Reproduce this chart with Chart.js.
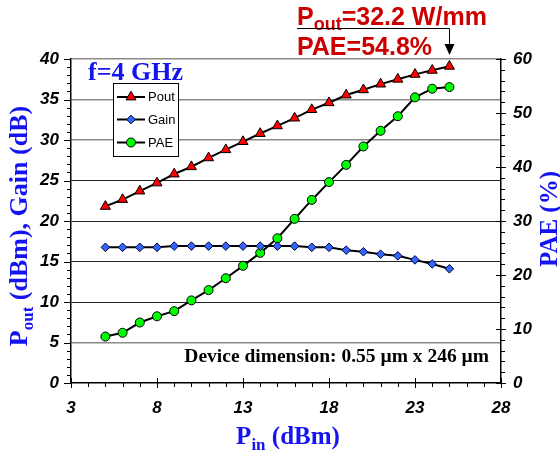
<!DOCTYPE html>
<html><head><meta charset="utf-8">
<script src="https://cdn.jsdelivr.net/npm/chart.js@4.4.0/dist/chart.umd.min.js"></script>
<style>html,body{margin:0;padding:0;background:#fff}#wrap{width:560px;height:456px;position:relative}</style>
</head><body><div id="wrap"><canvas id="c" width="560" height="456"></canvas></div>
<script>
// ---- data ----
const pin  = [5,6,7,8,9,10,11,12,13,14,15,16,17,18,19,20,21,22,23,24,25];
const pout = [21.8,22.65,23.7,24.7,25.8,26.7,27.8,28.8,29.8,30.8,31.75,32.7,33.75,34.6,35.55,36.2,36.9,37.5,38.1,38.6,39.1];
const gain = [16.75,16.75,16.75,16.75,16.9,16.9,16.9,16.9,16.9,16.9,16.9,16.9,16.75,16.75,16.4,16.2,15.9,15.7,15.2,14.7,14.1];
const pae  = [8.6,9.3,11.2,12.35,13.3,15.3,17.2,19.4,21.7,24.1,26.8,30.4,33.9,37.2,40.4,43.8,46.7,49.4,52.9,54.5,54.8];
const seriesNames = ['Pout','Gain','PAE'];
const xRange = [3,28], yRange = [0,40], y2Range = [0,60];

const BLUE = '#1414f0', RED = '#cc0000';
const tickFont = {family:'"Liberation Sans", Arial, sans-serif', size:17, weight:'bold', style:'italic'};

function drawRich(ctx, parts, x, y, align){
  let w = 0;
  parts.forEach(p=>{ ctx.font = p.font; p.w = ctx.measureText(p.t).width; w += p.w; });
  let cx = align==='center' ? x - w/2 : (align==='right' ? x - w : x);
  ctx.textAlign='left'; ctx.textBaseline='alphabetic';
  parts.forEach(p=>{ ctx.font = p.font; ctx.fillText(p.t, cx, y + (p.dy||0)); cx += p.w; });
  return w;
}
function seg(ctx,x1,y1,x2,y2){ctx.beginPath();ctx.moveTo(x1,y1);ctx.lineTo(x2,y2);ctx.stroke();}

function marker(ctx, style, x, y, r, fill, stroke){
  ctx.save(); ctx.fillStyle=fill; ctx.strokeStyle=stroke; ctx.lineWidth=1; ctx.beginPath();
  if(style==='triangle'){
    for(let k=0;k<3;k++){const a=k*2*Math.PI/3; const px=x+Math.sin(a)*r, py=y-Math.cos(a)*r; k?ctx.lineTo(px,py):ctx.moveTo(px,py);} ctx.closePath();
  } else if(style==='rectRot'){
    ctx.moveTo(x,y-r);ctx.lineTo(x+r,y);ctx.lineTo(x,y+r);ctx.lineTo(x-r,y);ctx.closePath();
  } else { ctx.arc(x,y,r,0,Math.PI*2); }
  ctx.fill(); ctx.stroke(); ctx.restore();
}

const styles = [
  {ps:'triangle', r:5.8, fill:'#ff0000', stroke:'#000'},
  {ps:'rectRot',  r:4.3, fill:'#3366ff', stroke:'#000033'},
  {ps:'circle',   r:4.5, fill:'#00ff00', stroke:'#000'}
];

const decor = {
  id:'decor',
  afterDraw(chart){
    const ctx = chart.ctx, a = chart.chartArea;
    const xs = chart.scales.x, ys = chart.scales.y, y2 = chart.scales.y2;
    const L=a.left, R=a.right, B=a.bottom;
    ctx.save();
    ctx.strokeStyle='#000'; ctx.lineWidth=1;
    for(let v=yRange[0]; v<=yRange[1]; v++){
      const p = Math.round(ys.getPixelForValue(v))+0.5;
      seg(ctx, L-(v%5===0?7:4), p, L, p);
    }
    for(let v=y2Range[0]; v<=y2Range[1]; v+=2){
      const p = Math.round(y2.getPixelForValue(v))+0.5;
      if(v%10===0) seg(ctx,R-5,p,R+5,p); else seg(ctx,R,p,R+4,p);
    }
    for(let v=xRange[0]; v<=xRange[1]; v++){
      const p = Math.round(xs.getPixelForValue(v))+0.5;
      if((v-xRange[0])%5===0) seg(ctx,p,B-5,p,B+5); else seg(ctx,p,B,p,B+4);
    }
    // axis titles
    const serifB = s => 'bold '+s+'px "Liberation Serif", "Times New Roman", serif';
    ctx.fillStyle = BLUE;
    drawRich(ctx, [{t:'P',font:serifB(25)},{t:'in',font:serifB(17),dy:6},{t:' (dBm)',font:serifB(25)}], 288, 444, 'center');
    ctx.save(); ctx.translate(27, 226); ctx.rotate(-Math.PI/2);
    drawRich(ctx, [{t:'P',font:serifB(26)},{t:'out',font:serifB(17),dy:6},{t:' (dBm), Gain (dB)',font:serifB(26)}], 0, 0, 'center');
    ctx.restore();
    ctx.save(); ctx.translate(557, 219); ctx.rotate(-Math.PI/2);
    drawRich(ctx, [{t:'PAE (%)',font:serifB(25)}], 0, 0, 'center');
    ctx.restore();
    // f=4 GHz
    drawRich(ctx, [{t:'f=4 GHz',font:serifB(26)}], 88, 80, 'left');
    // device dimension
    ctx.fillStyle='#000';
    drawRich(ctx, [{t:'Device dimension: 0.55 \u00b5m x 246 \u00b5m',font:serifB(19.5)}], 489, 362, 'right');
    // annotation
    const sansB = s => 'bold '+s+'px "Liberation Sans", Arial, sans-serif';
    ctx.fillStyle = RED;
    drawRich(ctx, [{t:'P',font:sansB(25)},{t:'out',font:sansB(18),dy:5},{t:'=32.2 W/mm',font:sansB(25)}], 297, 25, 'left');
    drawRich(ctx, [{t:'PAE=54.8%',font:sansB(25)}], 297, 55, 'left');
    const ax = Math.round(xs.getPixelForValue(pin[pin.length-1]))+0.5;
    ctx.strokeStyle='#000'; ctx.lineWidth=1;
    ctx.beginPath(); ctx.moveTo(297,28.5); ctx.lineTo(ax,28.5); ctx.lineTo(ax,45); ctx.stroke();
    ctx.fillStyle='#000'; ctx.beginPath(); ctx.moveTo(ax-5,44); ctx.lineTo(ax+5,44); ctx.lineTo(ax,55); ctx.closePath(); ctx.fill();
    // legend
    const lx=113.5, ly=83.5, lw=65, lh=73;
    ctx.fillStyle='#fff'; ctx.fillRect(lx,ly,lw,lh);
    ctx.strokeStyle='#000'; ctx.lineWidth=1; ctx.strokeRect(lx,ly,lw,lh);
    const rows=[97,119.5,142.5];
    seriesNames.forEach((n,i)=>{
      ctx.strokeStyle='#000'; ctx.lineWidth=2; seg(ctx,117,rows[i],145,rows[i]);
      const s=styles[i]; marker(ctx,s.ps,131,rows[i],s.r,s.fill,s.stroke);
      ctx.fillStyle='#000'; ctx.font='13px "Liberation Sans", Arial, sans-serif'; ctx.textAlign='left'; ctx.textBaseline='middle';
      ctx.fillText(n,148,rows[i]+0.5);
    });
    ctx.restore();
  }
};

function ds(label, ys, axis, i){
  const s = styles[i];
  return {label, data: pin.map((x,k)=>({x, y: ys[k]})), yAxisID: axis,
    borderColor:'#000', borderWidth:2, tension:0, fill:false,
    pointStyle:s.ps, pointRadius:s.r, pointBackgroundColor:s.fill, pointBorderColor:s.stroke, pointBorderWidth:1};
}

new Chart(document.getElementById('c').getContext('2d'), {
  type:'line',
  data:{datasets:[ds(seriesNames[0],pout,'y',0), ds(seriesNames[1],gain,'y',1), ds(seriesNames[2],pae,'y2',2)]},
  options:{
    responsive:false, animation:false, devicePixelRatio:1,
    layout:{padding:{top:59,left:0,right:0,bottom:0}},
    plugins:{legend:{display:false}, tooltip:{enabled:false}},
    scales:{
      x:{type:'linear', position:'bottom', min:xRange[0], max:xRange[1],
         ticks:{stepSize:5, padding:15, font:tickFont, color:'#000', maxRotation:0},
         grid:{display:false, drawTicks:false}, border:{display:true,color:'#000',width:1.5},
         afterFit(s){s.height=73;}},
      y:{position:'left', min:yRange[0], max:yRange[1],
         ticks:{stepSize:5, padding:12, font:tickFont, color:'#000'},
         grid:{drawTicks:false,
           color:c=> c.tick.value===0 ? 'rgba(0,0,0,0)' : ((c.tick.value>=30||c.tick.value===5) ? '#8a8a8a' : '#222'),
           lineWidth:c=> (c.tick.value>=30||c.tick.value===5) ? 1.6 : 1},
         border:{display:true,color:'#000',width:1.5},
         afterFit(s){s.width=71;}},
      y2:{position:'right', min:y2Range[0], max:y2Range[1],
         ticks:{stepSize:10, padding:12, font:tickFont, color:'#000'},
         grid:{display:false, drawTicks:false}, border:{display:true,color:'#000',width:1.5},
         afterFit(s){s.width=59;}}
    }
  },
  plugins:[decor]
});
</script></body></html>
